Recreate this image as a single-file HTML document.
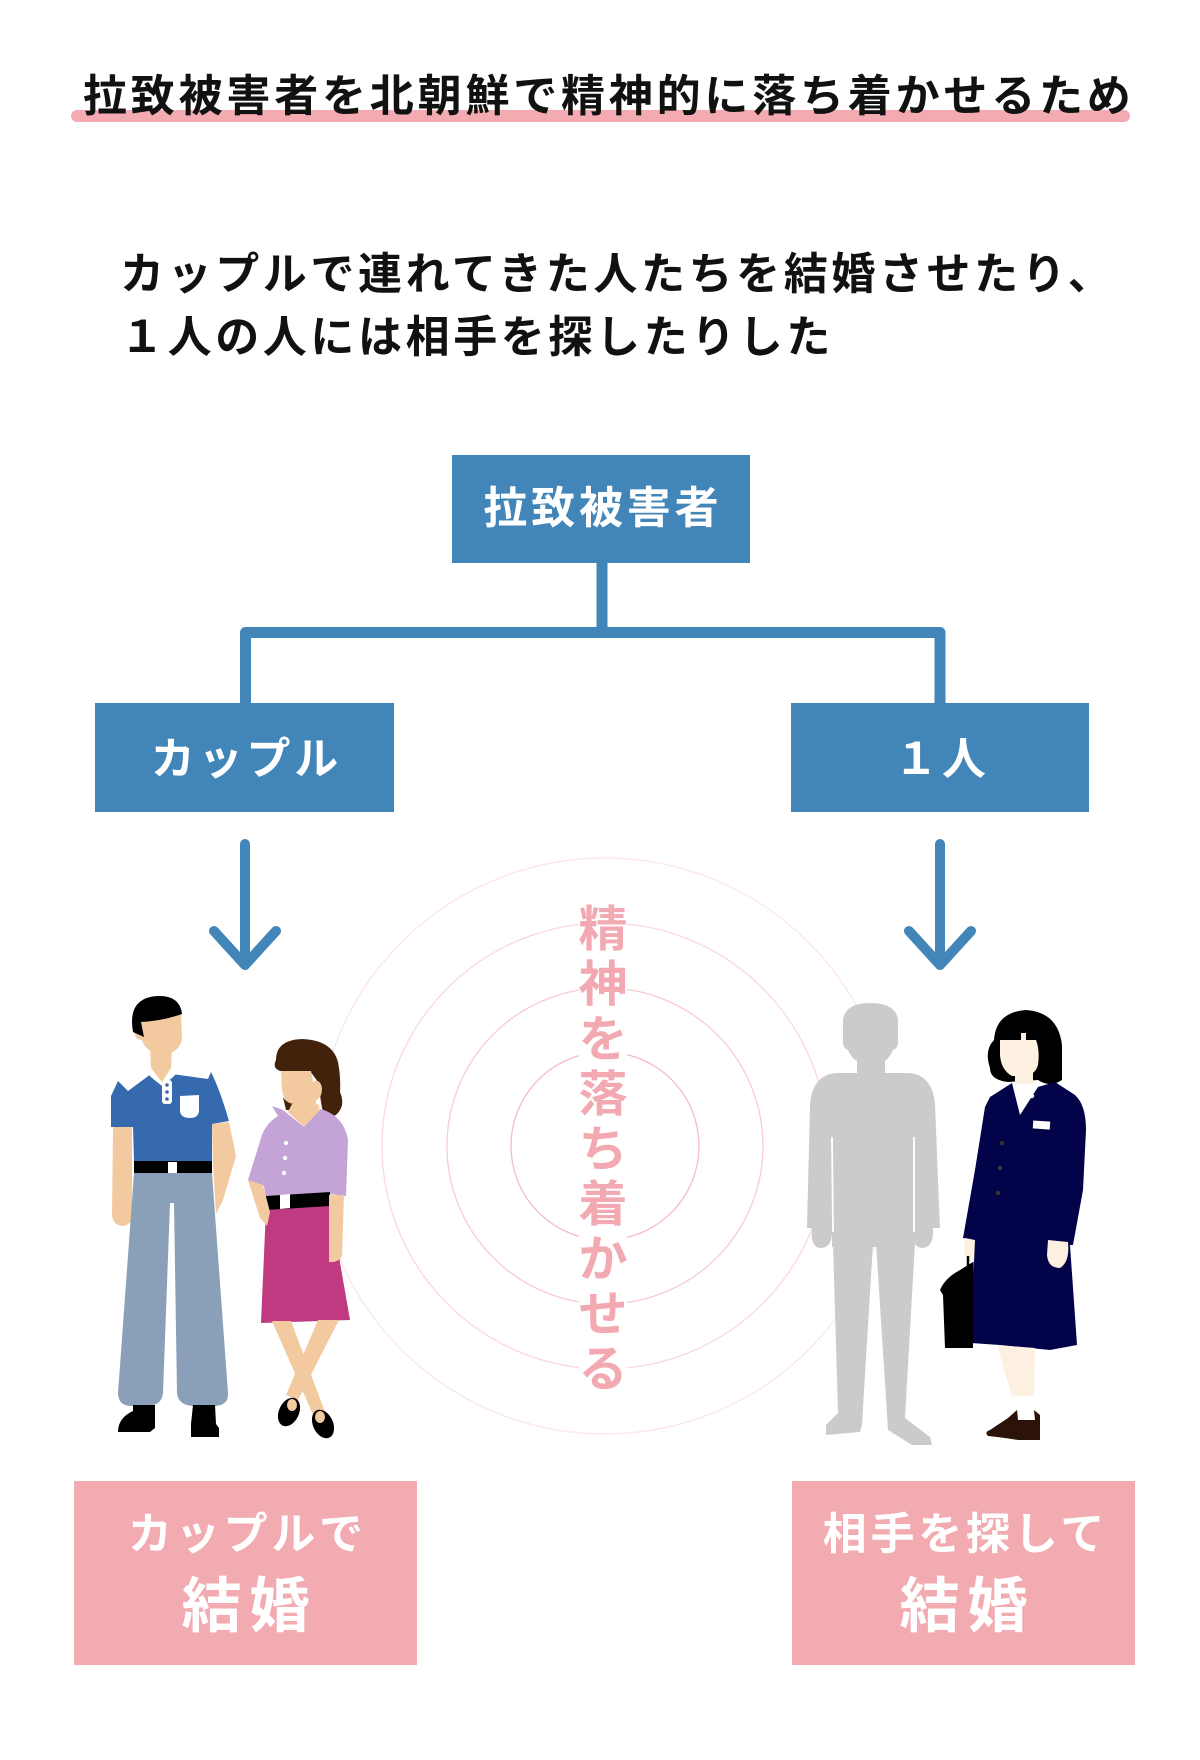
<!DOCTYPE html>
<html><head><meta charset="utf-8">
<style>
html,body{margin:0;padding:0;background:#fff;}
body{width:1200px;height:1760px;position:relative;overflow:hidden;font-family:"Liberation Sans","Noto Sans CJK JP",sans-serif;font-weight:700;}
.t{position:absolute;white-space:nowrap;line-height:1;}
svg{position:absolute;left:0;top:0;}
.bl{color:#111;font-size:44px;letter-spacing:3.8px;}
.wt{color:#fff;font-size:44px;letter-spacing:3.8px;text-align:center;padding-left:3.8px;box-sizing:border-box;}
.big{font-size:60px;letter-spacing:8px;padding-left:8px;}
.vt{position:absolute;left:576px;top:903px;width:54px;font-size:49px;line-height:55px;color:#f3a9b1;text-align:center;}
</style></head><body>
<svg width="1200" height="1760" viewBox="0 0 1200 1760">
  <!-- title underline -->
  <rect x="71" y="110" width="1059" height="12" rx="6" fill="#f4aab1"/>

  <!-- concentric circles -->
  <g fill="none" stroke-width="1.3">
    <circle cx="605" cy="1146" r="288" stroke="#fce6e9"/>
    <circle cx="605" cy="1146" r="223" stroke="#fad8dc"/>
    <circle cx="605" cy="1146" r="158" stroke="#f8cbd0"/>
    <circle cx="605" cy="1146" r="94" stroke="#f5bcc3"/>
  </g>
  <rect x="579" y="900" width="48" height="490" fill="#fff"/>

  <!-- boxes -->
  <rect x="452" y="455" width="298" height="108" fill="#4286b9"/>
  <rect x="95" y="703" width="299" height="109" fill="#4286b9"/>
  <rect x="791" y="703" width="298" height="109" fill="#4286b9"/>
  <rect x="74" y="1481" width="343" height="184" fill="#f3abb2"/>
  <rect x="792" y="1481" width="343" height="184" fill="#f3abb2"/>

  <!-- connectors -->
  <g stroke="#4286b9" stroke-width="11" fill="none" stroke-linejoin="round">
    <path d="M245.5,703 V632.5 H940 V703"/>
    <path d="M602,562 V632"/>
  </g>

  <!-- arrows -->
  <g stroke="#4286b9" stroke-width="10" stroke-linecap="round" stroke-linejoin="round" fill="none">
    <path d="M245,844 V964 M214,931 L245,965 L276,931"/>
    <path d="M940,844 V964 M909,931 L940,965 L971,931"/>
  </g>

  <!-- ===== couple: man ===== -->
  <g>
    <path fill="#f3c9a0" d="M140,1018 L181,1012 L182,1040 Q179,1050 170,1053 L152,1052 Q143,1046 142,1040 Q134,1040 135,1030 Q136,1022 140,1024 Z"/>
    <path fill="#f3c9a0" d="M150,1046 L172,1046 L171,1068 L162,1082 L151,1068 Z"/>
    <path fill="#000" d="M133,1032 Q127,998 157,996 Q180,995 182,1014 Q162,1021 141,1022 L144,1037 Z"/>
    <path fill="#356aaf" d="M111,1127 L111,1096 L118,1081 L128,1091 L151,1074 L162,1082 L172,1074 L208,1079 L211,1072 Q220,1090 229,1121 L212,1124 L212,1162 L134,1162 L133,1127 Z"/>
    <path fill="#fff" d="M148,1074 L152,1071 L162,1082 L172,1071 L176,1074 L172,1078 L162,1086 L152,1078 Z"/>
    <rect x="162" y="1080" width="10" height="24" rx="3" fill="#fff"/>
    <circle cx="167" cy="1085" r="1.8" fill="#356aaf"/>
    <circle cx="167" cy="1092" r="1.8" fill="#356aaf"/>
    <circle cx="167" cy="1099" r="1.8" fill="#356aaf"/>
    <path fill="#fff" d="M180,1096 L199,1095 L199,1110 Q199,1118 190,1118 Q180,1118 180,1110 Z"/>
    <path fill="#f3c9a0" d="M113,1127 L132,1127 L132,1210 Q136,1222 124,1226 Q113,1226 112,1215 Z"/>
    <path fill="#8aa0b8" d="M134,1173 L212,1173 L228,1393 Q229,1405 215,1406 L193,1406 Q178,1405 177,1393 L174,1203 L170,1203 L163,1393 Q162,1405 148,1406 L130,1406 Q118,1405 118,1393 Z"/>
    <path fill="#f3c9a0" d="M212,1124 L229,1122 L236,1156 L223,1200 L216,1214 L213,1165 Z"/>
    <rect x="134" y="1161" width="78" height="12" fill="#000"/>
    <rect x="168" y="1162" width="9" height="11" fill="#fff"/>
    <path fill="#000" d="M133,1405 L155,1405 L155,1428 L150,1432 L118,1432 Q118,1418 133,1411 Z"/>
    <path fill="#000" d="M193,1405 L215,1405 L216,1424 L219,1428 L219,1437 L191,1437 L191,1424 Z"/>
  </g>

  <!-- ===== couple: woman ===== -->
  <g>
    <path fill="#43220c" d="M276,1060 Q276,1040 302,1039 Q332,1040 338,1062 Q341,1078 340,1092 Q346,1106 336,1115 Q326,1119 322,1108 L318,1082 L310,1071 L280,1071 Q272,1068 276,1060 Z"/>
    <path fill="#f3c9a0" d="M281,1071 L311,1071 L313,1082 Q320,1078 322,1088 Q322,1098 316,1100 L317,1110 L300,1110 Q284,1104 282,1090 Z"/>
    <path fill="#43220c" d="M283,1097 Q288,1105 298,1104 L298,1110 L286,1110 Z"/>
    <path fill="#f3c9a0" d="M292,1104 L318,1104 L320,1112 L304,1127 L288,1112 Z"/>
    <path fill="#c4a3d6" d="M272,1106 L283,1110 L304,1127 L321,1109 Q344,1116 348,1140 L346,1196 L330,1194 L266,1198 L264,1186 L248,1180 L261,1138 Q265,1124 278,1116 Z"/>
    <circle cx="286" cy="1143" r="2.2" fill="#fff"/>
    <circle cx="285" cy="1158" r="2.2" fill="#fff"/>
    <circle cx="284" cy="1173" r="2.2" fill="#fff"/>
    <path fill="#c03a82" d="M266,1209 L330,1205 L350,1320 L261,1323 Z"/>
    <path fill="#000" d="M266,1196 L330,1192 L330,1206 L266,1210 Z"/>
    <path fill="#fff" d="M280,1195 L290,1194 L290,1208 L280,1209 Z"/>
    <path fill="#f3c9a0" d="M248,1180 L263,1185 L270,1212 L267,1226 L260,1218 Z"/>
    <path fill="#f3c9a0" d="M329,1195 L344,1195 L342,1256 Q338,1263 329,1262 Z"/>
    <path fill="#f3c9a0" d="M272,1321 L291,1321 L325,1412 L314,1417 Z"/>
    <path fill="#f3c9a0" d="M318,1320 L339,1320 L298,1400 L286,1395 Z"/>
    <ellipse cx="289" cy="1412" rx="10" ry="15" transform="rotate(25 289 1412)" fill="#000"/>
    <ellipse cx="292" cy="1405" rx="5" ry="6" fill="#f3c9a0"/>
    <ellipse cx="323" cy="1424" rx="10" ry="15" transform="rotate(-25 323 1424)" fill="#000"/>
    <ellipse cx="320" cy="1417" rx="5" ry="6" fill="#f3c9a0"/>
  </g>

  <!-- ===== gray man ===== -->
  <g fill="#cbcbcb">
    <path d="M848,1050 Q842,1048 843,1040 L843,1020 Q845,1003 870,1003 Q896,1003 898,1020 L898,1040 Q899,1048 893,1050 Q888,1062 880,1062 L860,1062 Q852,1060 848,1050 Z"/>
    <rect x="857" y="1058" width="28" height="20"/>
    <path d="M835,1073 L910,1073 Q933,1076 935,1105 L940,1228 L933,1228 Q934,1248 922,1248 Q912,1247 914,1232 L915,1247 L832,1247 L832,1232 Q832,1248 820,1248 Q810,1247 812,1228 L807,1228 L810,1105 Q812,1076 835,1073 Z"/>
    <path d="M833,1243 L873,1243 L862,1425 L860,1432 L826,1435 L826,1425 L838,1413 Z"/>
    <path d="M876,1243 L915,1243 L905,1418 L930,1437 L932,1445 L912,1445 L888,1430 Z"/>
  </g>
  <g stroke="#fff" stroke-width="1.8" fill="none">
    <path d="M832,1137 L833,1232"/>
    <path d="M914,1137 L914,1232"/>
  </g>

  <!-- ===== schoolgirl ===== -->
  <g>
    <path fill="#000" d="M990,1068 Q984,1050 994,1040 Q996,1012 1026,1010 Q1058,1012 1062,1045 L1062,1080 Q1050,1088 1038,1080 L1008,1082 Q990,1080 990,1068 Z"/>
    <path fill="#fdf0e0" d="M1000,1040 L1021,1040 L1021,1033 L1026,1033 L1026,1040 L1036,1040 Q1040,1050 1038,1065 Q1035,1075 1025,1076 L1012,1076 Q1001,1070 1000,1055 Z"/>
    <rect x="1015" y="1072" width="18" height="14" fill="#fdf0e0"/>
    <path fill="#fff" d="M1010,1084 L1038,1084 L1020,1116 Z"/>
    <path fill="#03034a" d="M990,1097 L1012,1083 L1020,1115 L1038,1087 L1055,1082 L1075,1095 Q1086,1105 1086,1130 L1083,1190 L1073,1245 L1070,1245 L1077,1345 L1050,1350 L1000,1345 L971,1343 L974,1240 L963,1238 L975,1170 L985,1107 Z"/>
    <rect x="1033" y="1121" width="17" height="8" fill="#fff" transform="rotate(4 1041 1125)"/>
    <circle cx="1032" cy="1096" r="2.2" fill="#fff"/>
    <circle cx="1002" cy="1143" r="2.3" fill="#333"/>
    <circle cx="1000" cy="1168" r="2.3" fill="#333"/>
    <circle cx="998" cy="1193" r="2.3" fill="#333"/>
    <path fill="#fdf0e0" d="M1048,1240 L1068,1242 Q1070,1262 1060,1268 Q1048,1268 1047,1255 Z"/>
    <path fill="#fdf0e0" d="M965,1238 L975,1240 L974,1262 Q965,1262 964,1250 Z"/>
    <path fill="none" stroke="#000" stroke-width="2.5" d="M968,1270 L968,1256"/>
    <path fill="#000" d="M940,1290 Q945,1278 960,1270 L973,1262 L973,1348 L945,1348 L943,1295 Z"/>
    <path fill="#fdf0e0" d="M997,1345 L1035,1348 L1034,1400 L1013,1400 Z"/>
    <rect x="1013" y="1396" width="24" height="20" fill="#fff"/>
    <path fill="#2b1309" d="M1008,1418 L1017,1410 L1018,1420 L1035,1420 L1034,1410 L1040,1415 L1040,1440 L1018,1440 Q1000,1437 988,1436 Q984,1432 990,1430 Z"/>
  </g>
</svg>

<!-- title -->
<div class="t bl" style="left:83px;top:75px;">拉致被害者を北朝鮮で精神的に落ち着かせるため</div>

<!-- paragraph -->
<div class="t bl" style="left:120px;top:253px;letter-spacing:3.6px;">カップルで連れてきた人たちを結婚させたり、</div>
<div class="t bl" style="left:120px;top:316px;letter-spacing:3.6px;">１人の人には相手を探したりした</div>

<!-- boxes text -->
<div class="t wt" style="left:452px;top:487px;width:298px;">拉致被害者</div>
<div class="t wt" style="left:95px;top:738px;width:299px;">カップル</div>
<div class="t wt" style="left:791px;top:738px;width:298px;">１人</div>

<!-- vertical text -->
<div class="vt">精<br>神<br>を<br>落<br>ち<br>着<br>か<br>せ<br>る</div>

<!-- pink boxes text -->
<div class="t wt" style="left:74px;top:1513px;width:343px;">カップルで</div>
<div class="t wt big" style="left:74px;top:1577px;width:343px;">結婚</div>
<div class="t wt" style="left:792px;top:1513px;width:343px;">相手を探して</div>
<div class="t wt big" style="left:792px;top:1577px;width:343px;">結婚</div>
</body></html>
